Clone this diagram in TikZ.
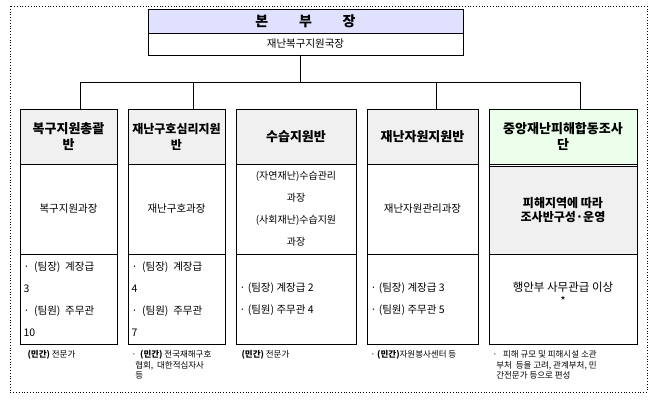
\documentclass[tikz,border=0pt]{standalone}
\usepackage{fontspec}
\setmainfont{Noto Sans CJK KR}
\begin{document}
\begin{tikzpicture}[x=1pt,y=-1pt,
  cell/.style={draw,line width=0.8pt},
  hd/.style={font=\fontsize{13}{16}\selectfont\bfseries,align=center},
  bd/.style={font=\fontsize{10.5}{17}\selectfont,align=center},
  nt/.style={font=\fontsize{8.5}{10.5}\selectfont,align=left,anchor=north west},
  ln/.style={line width=0.8pt}]
\useasboundingbox (0,0) rectangle (666,409);
\draw[dotted,line width=0.8pt] (10,6) rectangle (647,392);
% top
\filldraw[cell,fill=blue!12] (148,9) rectangle (463,33);
\draw[cell] (148,33) rectangle (463,55);
\node[hd,font=\fontsize{14}{16}\selectfont\bfseries] (top) at (305.5,21) {본\hspace{2.2em}부\hspace{2.2em}장};
\node[bd] (sub) at (305.5,44) {재난복구지원국장};
\coordinate (m) at (300,55);
\coordinate (j) at (300,82);
\draw[ln] (m) -- (j);
\draw[ln] (80,82) -- (580,82);
\foreach \x in {80,193,436,580} \draw[ln] (\x,82) -- (\x,109);
% columns
\foreach \a/\b/\f in {20/117/gray!12,128/225/gray!12,236/356/gray!12,367/478/gray!12,489/637/green!8}{
  \filldraw[cell,fill=\f] (\a,109) rectangle (\b,164);
  \draw[cell] (\a,164) rectangle (\b,254);
  \draw[cell] (\a,254) rectangle (\b,344);
}
\filldraw[cell,fill=gray!12] (489,166) rectangle (637,254);
\node[hd] (h1) at (68.5,136.5) {복구지원총괄\\반};
\node[hd,font=\fontsize{12}{16}\selectfont\bfseries] (h2) at (176.5,136.5) {재난구호심리지원\\반};
\node[hd] (h3) at (296,136.5) {수습지원반};
\node[hd] (h4) at (422.5,136.5) {재난자원지원반};
\node[hd] (h5) at (563,136.5) {중앙재난피해합동조사\\단};
\node[bd] (b1) at (68.5,209) {복구지원과장};
\node[bd] (b2) at (176.5,209) {재난구호과장};
\node[bd,font=\fontsize{10}{22}\selectfont] (b3) at (296,209) {(자연재난)수습관리\\과장\\(사회재난)수습지원\\과장};
\node[bd] (b4) at (422.5,209) {재난자원관리과장};
\node[hd,font=\fontsize{12}{14.5}\selectfont\bfseries] (b5) at (563,210) {피해지역에 따라\\조사반구성·운영};
\node[bd,align=left,anchor=west,font=\fontsize{10.5}{22}\selectfont] (c1) at (20,299) {·\ \ (팀장)\ \ 계장급\\3\\·\ \ (팀원)\ \ 주무관\\10};
\node[bd,align=left,anchor=west,font=\fontsize{10.5}{22}\selectfont] (c2) at (128,299) {·\ \ (팀장)\ \ 계장급\\4\\·\ \ (팀원)\ \ 주무관\\7};
\node[bd,align=left,anchor=west,font=\fontsize{10.5}{22}\selectfont] (c3) at (236,299) {·\ (팀장) 계장급 2\\·\ (팀원) 주무관 4};
\node[bd,align=left,anchor=west,font=\fontsize{10.5}{22}\selectfont] (c4) at (367,299) {·\ (팀장) 계장급 3\\·\ (팀원) 주무관 5};
\node[bd,font=\fontsize{11.5}{14}\selectfont] (c5) at (563,294) {행안부 사무관급 이상\\*};
\node[nt] (n1) at (24,347) {\textbf{(민간)} 전문가};
\node[nt] (n2) at (128,347) {·\ \ \textbf{(민간)} 전국재해구호\\\ \ 협회,\ \ 대한적십자사\\\ \ 등};
\node[nt] (n3) at (238,347) {\textbf{(민간)} 전문가};
\node[nt] (n4) at (367,347) {· \textbf{(민간)}자원봉사센터 등};
\node[nt] (n5) at (489,347) {·\ \ \ 피해 규모 및 피해시설 소관\\\ \ 부처\ \ 등을 고려, 관계부처, 민\\\ \ 간전문가 등으로 편성};
\end{tikzpicture}
\end{document}
